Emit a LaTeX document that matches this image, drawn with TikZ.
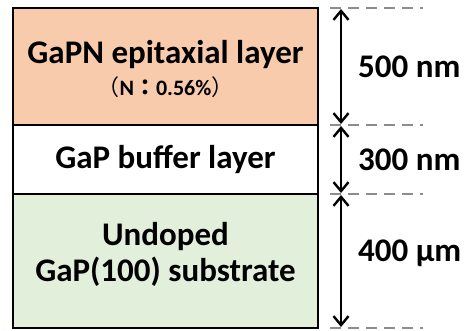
\documentclass[tikz,border=0pt]{standalone}
\usepackage{fontspec}
\setmainfont{Carlito}
\newfontfamily\cjkfont{Noto Sans CJK JP}
\usetikzlibrary{arrows.meta}
\definecolor{epi}{HTML}{F8CBAD}
\definecolor{sub}{HTML}{E2EFDA}
\definecolor{dashgray}{HTML}{8C8C8C}
\tikzset{
  layer/.style={draw=black, line width=2.4pt},
  lbl/.style={font=\bfseries\fontsize{33}{36}\selectfont, align=center, inner sep=0pt},
  dim/.style={font=\bfseries\fontsize{33}{36}\selectfont, anchor=west, inner sep=0pt},
  guide/.style={dashgray, line width=2.6pt, dash pattern=on 11pt off 7pt},
  span/.style={line width=2.4pt, {Straight Barb[length=9pt,width=15pt,line width=2.4pt]}-{Straight Barb[length=9pt,width=15pt,line width=2.4pt]}}
}
\begin{document}
\begin{tikzpicture}[x=1pt,y=-1pt]
\useasboundingbox (0,0) rectangle (468,331);
\fill[epi] (13,8) rectangle (318,125);
\fill[white] (13,125) rectangle (318,194);
\fill[sub] (13,194) rectangle (318,328);
\draw[layer] (13,8) rectangle (318,328);
\draw[layer] (13,125) -- (318,125);
\draw[layer] (13,194) -- (318,194);
\node[lbl] (epiname) at (165.5,55) {GaPN epitaxial layer};
\node[lbl, font=\bfseries\fontsize{22}{26}\selectfont] (epin) at (165.5,87) {{\cjkfont\mdseries （}N{\cjkfont ：}0.56\%{\cjkfont\mdseries ）}};
\node[lbl] (buf) at (165.5,160) {GaP buffer layer};
\node[lbl] (subname) at (165.5,254) {Undoped\\GaP(100) substrate};
\coordinate (g0) at (330,8);
\coordinate (g1) at (330,125);
\coordinate (g2) at (330,194);
\coordinate (g3) at (330,328);
\coordinate (h0) at (423,8);
\coordinate (h1) at (423,125);
\coordinate (h2) at (423,194);
\coordinate (h3) at (423,328);
\draw[guide] (g0) -- (h0);
\draw[guide] (g1) -- (h1);
\draw[guide] (g2) -- (h2);
\draw[guide] (g3) -- (h3);
\coordinate (a0) at (341,9);
\coordinate (a1) at (341,124);
\coordinate (b0) at (341,126);
\coordinate (b1) at (341,193);
\coordinate (c0) at (341,195);
\coordinate (c1) at (341,327);
\draw[span] (a0) -- (a1);
\draw[span] (b0) -- (b1);
\draw[span] (c0) -- (c1);
\node[dim] (d1) at (358,67) {500 nm};
\node[dim] (d2) at (358,160) {300 nm};
\node[dim] (d3) at (358,253) {400 µm};
\end{tikzpicture}
\end{document}
